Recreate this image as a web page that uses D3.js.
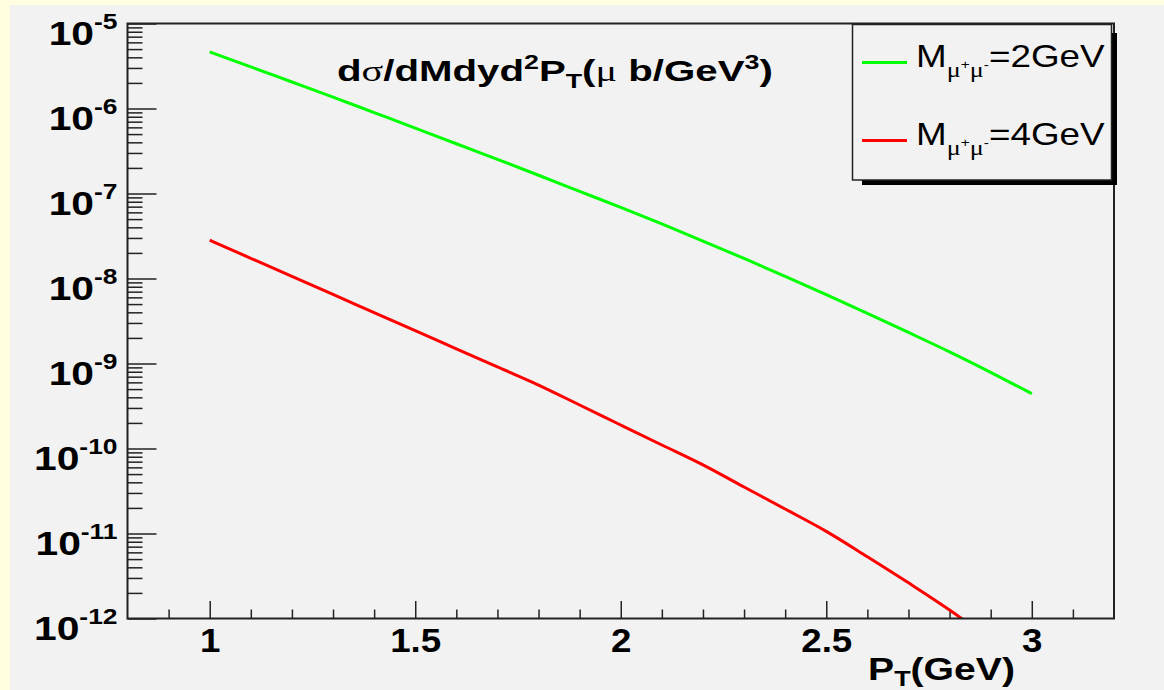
<!DOCTYPE html>
<html>
<head>
<meta charset="utf-8">
<script src="https://cdn.jsdelivr.net/npm/d3@7"></script>
<style>
body { margin: 0; background: #ffffe0; }
text { font-family: "Liberation Sans", Arial, sans-serif; fill: #000; }
</style>
</head>
<body>
<div id="main"></div>
<script>
var width = 1164;
var height = 690;

// PT (GeV) sample points
var ptValues = [1.0, 1.1, 1.2, 1.3, 1.4, 1.5, 1.6, 1.7, 1.8, 1.9, 2.0,
                2.1, 2.2, 2.3, 2.4, 2.5, 2.6, 2.7, 2.8, 2.9, 3.0];
// M = 2 GeV
var m2Values = [4.63e-6, 3.09e-6, 2.05e-6, 1.36e-6, 8.95e-7, 5.89e-7, 3.85e-7, 2.52e-7, 1.64e-7, 1.06e-7, 6.85e-8,
                4.38e-8, 2.76e-8, 1.72e-8, 1.06e-8, 6.47e-9, 3.90e-9, 2.32e-9, 1.37e-9, 7.87e-10, 4.43e-10];
// M = 4 GeV (runs off the bottom of the frame)
var m4Values = [2.82e-8, 1.73e-8, 1.06e-8, 6.49e-9, 3.97e-9, 2.43e-9, 1.49e-9, 9.12e-10, 5.58e-10, 3.25e-10, 1.89e-10,
                1.10e-10, 6.41e-11, 3.52e-11, 1.94e-11, 1.06e-11, 5.33e-12, 2.63e-12, 1.26e-12, 5.6e-13];

var seriesMass = ["2", "4"];
var seriesColors = ["#00ff00", "#ff0000"];

var xMajorTicks = [1, 1.5, 2, 2.5, 3];
var xTickLabels = ["1", "1.5", "2", "2.5", "3"];
var yMajorTicks = [1e-12, 1e-11, 1e-10, 1e-9, 1e-8, 1e-7, 1e-6, 1e-5];
var yExponents = ["-12", "-11", "-10", "-9", "-8", "-7", "-6", "-5"];

var LEFT = 127.5, TOP = 23.5, RIGHT = 1114, BOTTOM = 618.5;

function fitWidth(g, x, y, target){
  var w = g.node().getBBox().width;
  g.attr("transform", "translate(" + x + "," + y + ") scale(" + (target / w) + ",1)");
}

function init(){

  var svg = d3.select("#main")
    .append("svg")
    .attr("width", width)
    .attr("height", height);

  svg.append("rect").attr("width", width).attr("height", height).attr("fill", "#ffffe0");
  svg.append("rect").attr("x", 10).attr("y", 5)
    .attr("width", width - 10).attr("height", height - 5).attr("fill", "#f2f2f2");

  var x = d3.scaleLinear().domain([0.8, 3.2]).range([LEFT, RIGHT]);
  var y = d3.scaleLog().domain([1e-12, 1e-5]).range([BOTTOM, TOP]);

  svg.append("clipPath").attr("id", "frameClip")
    .append("rect")
    .attr("x", LEFT).attr("y", TOP)
    .attr("width", RIGHT - LEFT).attr("height", BOTTOM - TOP);

  // minor ticks
  var yMinor = [];
  for(var e = -12; e < -5; e++){
    for(var k = 2; k < 10; k++){ yMinor.push(k * Math.pow(10, e)); }
  }
  var xMinor = d3.range(9, 32).map(function(v){ return v / 10; })
    .filter(function(v){ return xMajorTicks.indexOf(v) < 0; });

  var yMinorAxis = svg.append("g")
    .attr("transform", "translate(" + LEFT + ",0)")
    .call(d3.axisLeft(y).tickValues(yMinor).tickSizeInner(-15).tickSizeOuter(0).tickFormat(""));
  var yMajorAxis = svg.append("g")
    .attr("transform", "translate(" + LEFT + ",0)")
    .call(d3.axisLeft(y).tickValues(yMajorTicks).tickSizeInner(-29).tickSizeOuter(0).tickPadding(10)
      .tickFormat(function(d, i){ return yExponents[i]; }));

  var xMinorAxis = svg.append("g")
    .attr("transform", "translate(0," + BOTTOM + ")")
    .call(d3.axisBottom(x).tickValues(xMinor).tickSizeInner(-9).tickSizeOuter(0).tickFormat(""));
  var xMajorAxis = svg.append("g")
    .attr("transform", "translate(0," + BOTTOM + ")")
    .call(d3.axisBottom(x).tickValues(xMajorTicks).tickSizeInner(-17.5).tickSizeOuter(0).tickPadding(9)
      .tickFormat(function(d, i){ return xTickLabels[i]; }));

  [yMinorAxis, yMajorAxis, xMinorAxis, xMajorAxis].forEach(function(a){
    a.select(".domain").remove();
    a.selectAll(".tick line").attr("stroke", "#222").attr("stroke-width", 1.5);
  });

  xMajorAxis.selectAll("text")
    .attr("font-size", "34px").attr("font-weight", "bold")
    .attr("font-family", "Liberation Sans, Arial, sans-serif").attr("fill", "#000")
    .attr("transform", "scale(1.08,1)")
    .attr("x", 0);

  // y labels: 10^n, a bit wider than the plain font
  yMajorAxis.selectAll("text").each(function(d, i){
    var t = d3.select(this);
    t.text(null)
      .attr("x", 0).attr("dy", null).attr("y", 21)
      .attr("transform", "translate(-10,0) scale(1.2,1)")
      .attr("font-family", "Liberation Sans, Arial, sans-serif")
      .attr("font-weight", "bold").attr("fill", "#000");
    t.append("tspan").attr("font-size", "34px").text("10");
    t.append("tspan").attr("font-size", "22px").attr("dy", -16).text(yExponents[i]);
  });

  // curves
  var line = d3.line()
    .x(function(d){ return x(d[0]); })
    .y(function(d){ return y(d[1]); })
    .curve(d3.curveMonotoneX);

  var series = [m2Values, m4Values].map(function(vals){
    return vals.map(function(v, i){ return [ptValues[i], v]; });
  });

  svg.append("g").attr("clip-path", "url(#frameClip)")
    .selectAll("path")
    .data(series)
    .enter()
    .append("path")
    .attr("d", line)
    .attr("fill", "none")
    .attr("stroke", function(d, i){ return seriesColors[i]; })
    .attr("stroke-width", 3);

  // frame
  svg.append("rect")
    .attr("x", LEFT).attr("y", TOP)
    .attr("width", RIGHT - LEFT).attr("height", BOTTOM - TOP)
    .attr("fill", "none").attr("stroke", "#222").attr("stroke-width", 2);

  // title
  var title = svg.append("g");
  var tt = title.append("text").attr("font-weight", "bold").attr("font-size", "30px");
  tt.append("tspan").text("d");
  tt.append("tspan").attr("font-family", "Liberation Serif, serif").attr("font-weight", "normal").text("σ");
  tt.append("tspan").text("/dMdyd");
  tt.append("tspan").attr("font-size", "20px").attr("dy", -12).text("2");
  tt.append("tspan").attr("dy", 12).text("P");
  tt.append("tspan").attr("font-size", "20px").attr("dy", 7).text("T");
  tt.append("tspan").attr("dy", -7).text("(");
  tt.append("tspan").attr("font-family", "Liberation Serif, serif").attr("font-weight", "normal").text("μ");
  tt.append("tspan").text(" b/GeV");
  tt.append("tspan").attr("font-size", "20px").attr("dy", -12).text("3");
  tt.append("tspan").attr("dy", 12).text(")");
  fitWidth(title, 337, 81, 436);

  // x axis title
  var xt = svg.append("g");
  var xtt = xt.append("text").attr("font-weight", "bold").attr("font-size", "32px");
  xtt.append("tspan").text("P");
  xtt.append("tspan").attr("font-size", "22px").attr("dy", 6).text("T");
  xtt.append("tspan").attr("dy", -6).text("(GeV)");
  fitWidth(xt, 868, 680, 147);

  // legend
  svg.append("rect").attr("x", 862).attr("y", 33).attr("width", 255).attr("height", 152).attr("fill", "#000");
  svg.append("rect").attr("x", 852.5).attr("y", 24.5).attr("width", 259).attr("height", 155.5)
    .attr("fill", "#f2f2f2").attr("stroke", "#222").attr("stroke-width", 1.5);

  var entries = svg.selectAll(".entry")
    .data(seriesMass)
    .enter()
    .append("g")
    .attr("class", "entry");

  entries.append("line")
    .attr("x1", 862).attr("x2", 907)
    .attr("y1", function(d, i){ return 62.5 + i * 78; })
    .attr("y2", function(d, i){ return 62.5 + i * 78; })
    .attr("stroke", function(d, i){ return seriesColors[i]; })
    .attr("stroke-width", 3);

  entries.each(function(d, i){
    var g = d3.select(this).append("g");
    var t = g.append("text").attr("font-size", "31px");
    t.append("tspan").text("M");
    t.append("tspan").attr("font-family", "Liberation Serif, serif").attr("font-size", "22px").attr("dy", 10).text("μ");
    t.append("tspan").attr("font-size", "13px").attr("dy", -8).text("+");
    t.append("tspan").attr("font-family", "Liberation Serif, serif").attr("font-size", "22px").attr("dy", 8).text("μ");
    t.append("tspan").attr("font-size", "13px").attr("dy", -8).text("-");
    t.append("tspan").attr("dy", -2).text("=" + d + "GeV");
    fitWidth(g, 916, 66.5 + i * 78, 189);
  });
}

init();
</script>
</body>
</html>
